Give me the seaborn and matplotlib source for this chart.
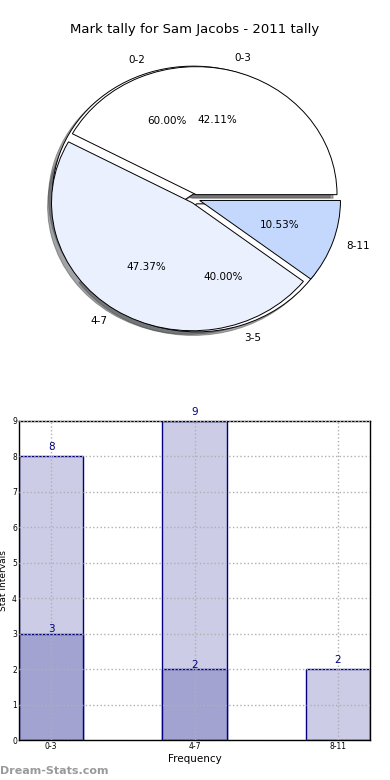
import matplotlib
matplotlib.use("Agg")
import matplotlib.pyplot as plt
import seaborn as sns
import pandas as pd

# ---- data ----
title = "Mark tally for Sam Jacobs - 2011 tally"
pie1_labels = ["0-3", "4-7", "8-11"]
pie1_values = [8, 9, 2]
pie2_labels = ["0-2", "3-5"]
pie2_values = [3, 2]

bar_cats = ["0-3", "4-7", "8-11"]
bar_light = [8, 9, 2]
bar_dark_cats = ["0-3", "4-7"]
bar_dark = [3, 2]

sns.set_style("white")
plt.rcParams["font.family"] = ["DejaVu Sans"]
plt.rcParams["text.color"] = "black"
plt.rcParams["axes.labelcolor"] = "black"
plt.rcParams["xtick.color"] = "black"
plt.rcParams["ytick.color"] = "black"

W, H = 390, 780
fig = plt.figure(figsize=(W / 100, H / 100), dpi=100)

# ---- pie ----
axp = fig.add_axes([19 / W, 1 - 359 / H, 352 / W, 320 / H])
pie2_colors = ["#ffffff", "#ffffff"]
pie1_colors = ["#ffffff", "#eaf0fe", "#c4d8fe"]
wp = dict(edgecolor="black", linewidth=0.7)
tp = dict(fontsize=7.5, color="black")
axp.pie(pie2_values, labels=pie2_labels, colors=pie2_colors, explode=[0.04] * len(pie2_values),
        autopct="%1.2f%%", pctdistance=0.6, labeldistance=1.1, shadow=True,
        wedgeprops=wp, textprops=tp)
axp.pie(pie1_values, labels=pie1_labels, colors=pie1_colors, explode=[0.035] * len(pie1_values),
        autopct="%1.2f%%", pctdistance=0.6, labeldistance=1.1, shadow=True,
        wedgeprops=wp, textprops=tp)
axp.set_aspect("auto")
axp.set_xlim(-1.25, 1.25)
axp.set_ylim(-1.25, 1.25)
axp.axis("off")
fig.text(0.5, 1 - 30 / H, title, ha="center", va="center", fontsize=9.5, color="black")

# ---- bars ----
axb = fig.add_axes([19 / W, 40 / H, 351 / W, 319 / H])
light_face = (0.8, 0.8, 0.9004)
dark_face = (0.64, 0.64, 0.8207)
navy = "#000080"
df_light = pd.DataFrame({"cat": bar_cats, "val": bar_light})
df_dark = pd.DataFrame({"cat": bar_dark_cats, "val": bar_dark})
sns.barplot(data=df_light, x="cat", y="val", order=bar_cats, width=0.45, color=light_face,
            saturation=1, edgecolor=navy, linewidth=1.0, ax=axb, zorder=1)
sns.barplot(data=df_dark, x="cat", y="val", order=bar_cats, width=0.45, color=dark_face,
            saturation=1, edgecolor=navy, linewidth=1.0, ax=axb, zorder=1)
axb.set_xlim(-0.225, 2.225)
axb.set_ylim(0, 9)
axb.set_yticks(range(0, 10))
axb.grid(True, linestyle=":", color="#b0b0b0", linewidth=1.0)
axb.set_axisbelow(False)
for s in axb.spines.values():
    s.set_visible(True)
    s.set_color("black")
    s.set_linewidth(1.0)
axb.tick_params(axis="both", labelsize=5.5, direction="in", length=3, width=0.6, colors="black", pad=1.5)
axb.set_xlabel("Frequency", fontsize=7.5, labelpad=2, color="black")
axb.set_ylabel("Stat Intervals", fontsize=6.5, labelpad=2, color="black")
axb.yaxis.set_label_coords(-0.0305, 0.5)

for i, v in enumerate(bar_light):
    axb.text(i, v + 0.12, str(v), ha="center", va="bottom", fontsize=7.5, color=navy, clip_on=False)
for c, v in zip(bar_dark_cats, bar_dark):
    i = bar_cats.index(c)
    axb.text(i, v - 0.02, str(v), ha="center", va="bottom", fontsize=7.5, color=navy, clip_on=False)

fig.text(0.0, 1 - 771 / H, "Dream-Stats.com", ha="left", va="center", fontsize=8,
         color="#9a9a9a", fontweight="bold")

fig.savefig("out.png", dpi=100)
